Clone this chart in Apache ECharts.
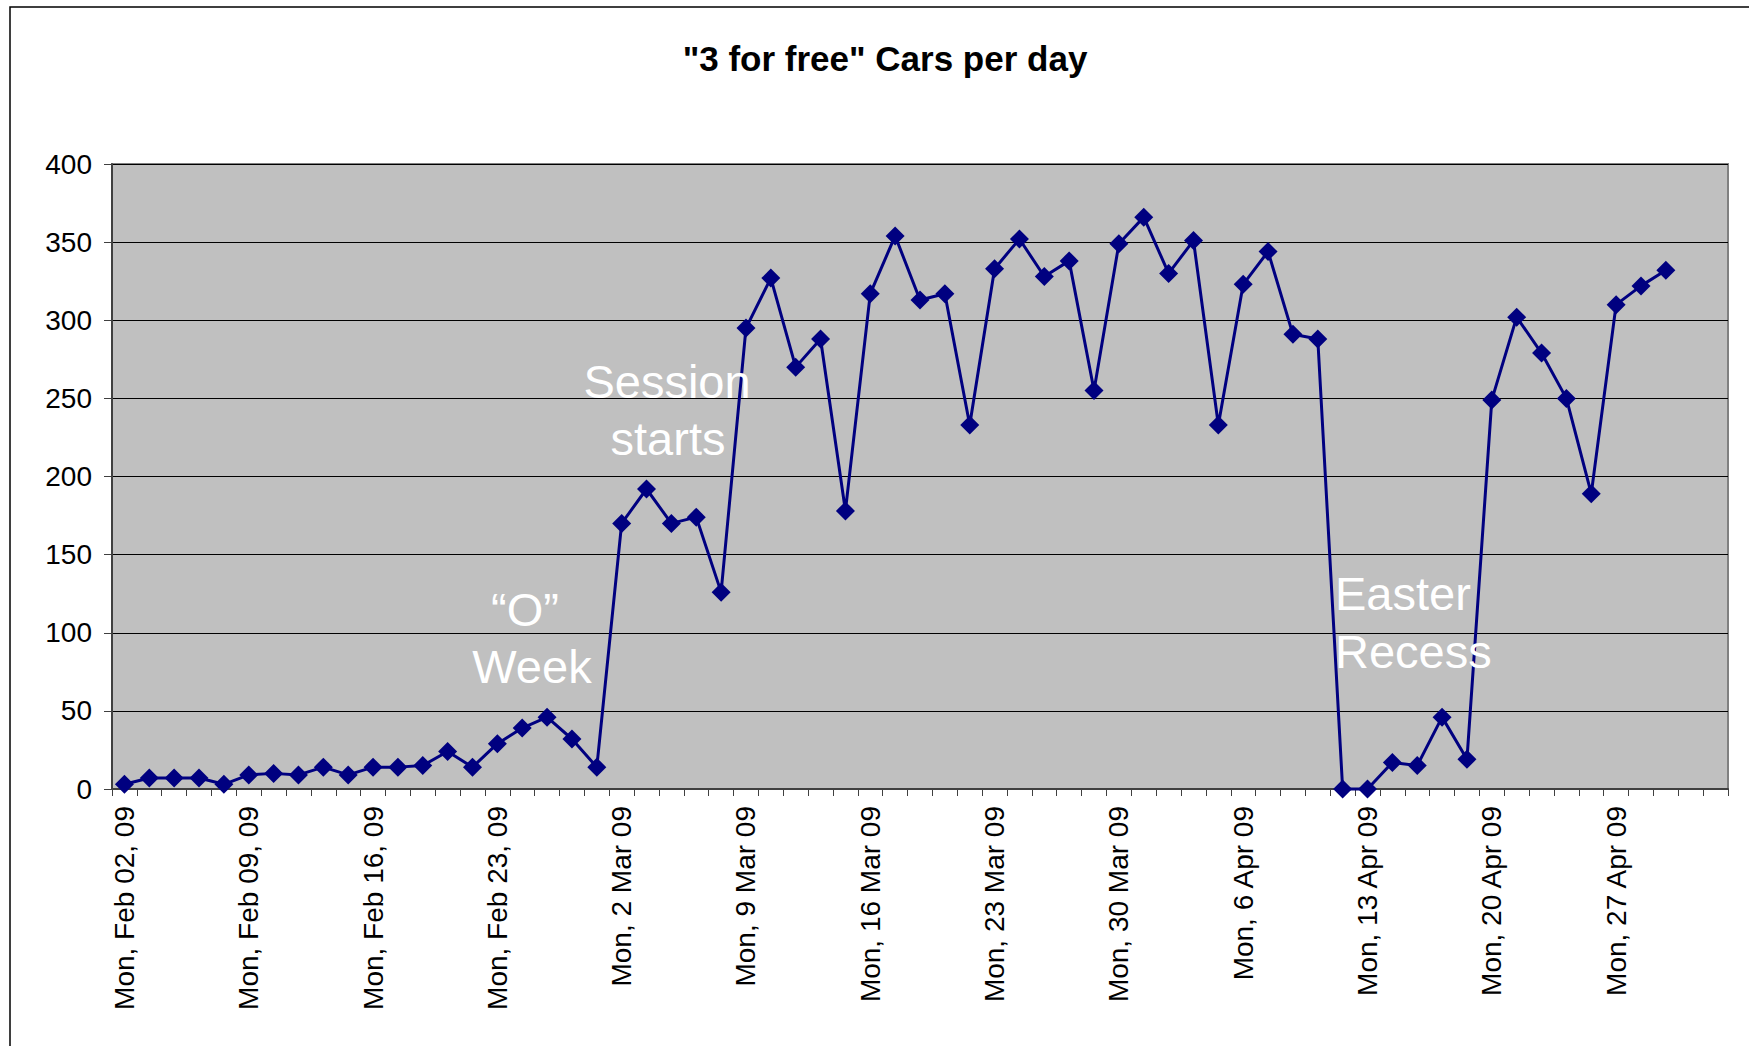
<!DOCTYPE html>
<html>
<head>
<meta charset="utf-8">
<script src="https://cdn.jsdelivr.net/npm/echarts@6/dist/echarts.min.js"></script>
<style>
  html, body { margin: 0; padding: 0; background: #fff; }
  #chart { width: 1749px; height: 1046px; }
</style>
</head>
<body>
<div id="chart"></div>
<script>
// week start labels (one per Monday), 5 weekdays per week
var weekLabels = ['Mon, Feb 02, 09', 'Mon, Feb 09, 09', 'Mon, Feb 16, 09', 'Mon, Feb 23, 09',
  'Mon, 2 Mar 09', 'Mon, 9 Mar 09', 'Mon, 16 Mar 09', 'Mon, 23 Mar 09', 'Mon, 30 Mar 09',
  'Mon, 6 Apr 09', 'Mon, 13 Apr 09', 'Mon, 20 Apr 09', 'Mon, 27 Apr 09'];
var dayNames = ['Mon', 'Tue', 'Wed', 'Thu', 'Fri'];

// cars per day
var cars = [
  3, 7, 7, 7, 3,
  9, 10, 9, 14, 9,
  14, 14, 15, 24, 14,
  29, 39, 46, 32, 14,
  170, 192, 170, 174, 126,
  295, 327, 270, 288, 178,
  317, 354, 313, 317, 233,
  333, 352, 328, 338, 255,
  349, 366, 330, 351, 233,
  323, 344, 291, 288, 0,
  0, 17, 15, 46, 19,
  249, 302, 279, 250, 189,
  310, 322, 332
];

var yTicks = [0, 50, 100, 150, 200, 250, 300, 350, 400];

var categories = [];
weekLabels.forEach(function (w) {
  dayNames.forEach(function (d, j) {
    categories.push(j === 0 ? w : w + ' ' + d);
  });
});

var chart = echarts.init(document.getElementById('chart'), null, { renderer: 'svg' });

var font = 'Liberation Sans, Arial, sans-serif';

var option = {
  animation: false,
  backgroundColor: '#ffffff',
  grid: {
    left: 112, right: 21, top: 164, bottom: 257,
    show: true,
    backgroundColor: '#c0c0c0',
    borderColor: '#808080',
    borderWidth: 2
  },
  xAxis: {
    type: 'category',
    data: categories,
    boundaryGap: true,
    axisLine: { lineStyle: { color: '#404040', width: 2 } },
    axisTick: { show: true, interval: 0, length: 7, lineStyle: { color: '#404040', width: 1 } },
    axisLabel: {
      interval: 4,
      rotate: 90,
      margin: 17,
      fontFamily: font,
      fontSize: 28,
      color: '#000',
      formatter: function (v) { return v.indexOf(' Tue') > 0 ? '' : v; }
    },
    splitLine: { show: false }
  },
  yAxis: {
    type: 'value',
    min: yTicks[0],
    max: yTicks[yTicks.length - 1],
    interval: 50,
    axisLine: { show: true, lineStyle: { color: '#404040', width: 2 } },
    axisTick: { show: true, length: 8, lineStyle: { color: '#404040', width: 1 } },
    axisLabel: { margin: 20, fontFamily: font, fontSize: 28, color: '#000' },
    splitLine: { show: true, lineStyle: { color: '#000', width: 1 } }
  },
  series: [{
    type: 'line',
    data: cars,
    symbol: 'diamond',
    symbolSize: 19,
    showSymbol: true,
    showAllSymbol: true,
    clip: false,
    lineStyle: { color: '#000080', width: 3 },
    itemStyle: { color: '#000080' }
  }],
  graphic: [
    { type: 'rect', silent: true, z: 100,
      shape: { x: 10, y: 7, width: 1800, height: 1100 },
      style: { fill: 'none', stroke: '#000', lineWidth: 1.5 } },
    { type: 'text', x: 885, y: 58, z: 100,
      style: { text: '"3 for free" Cars per day', font: 'bold 35px ' + font, fill: '#000',
        textAlign: 'center', textVerticalAlign: 'middle' } },
    { type: 'text', x: 525, y: 609, z: 100,
      style: { text: '\u201cO\u201d', font: '47px ' + font, fill: '#fff', textAlign: 'center', textVerticalAlign: 'middle' } },
    { type: 'text', x: 532, y: 666, z: 100,
      style: { text: 'Week', font: '47px ' + font, fill: '#fff', textAlign: 'center', textVerticalAlign: 'middle' } },
    { type: 'text', x: 667, y: 381, z: 100,
      style: { text: 'Session', font: '47px ' + font, fill: '#fff', textAlign: 'center', textVerticalAlign: 'middle' } },
    { type: 'text', x: 668, y: 438, z: 100,
      style: { text: 'starts', font: '47px ' + font, fill: '#fff', textAlign: 'center', textVerticalAlign: 'middle' } },
    { type: 'text', x: 1335, y: 593, z: 100,
      style: { text: 'Easter', font: '47px ' + font, fill: '#fff', textAlign: 'left', textVerticalAlign: 'middle' } },
    { type: 'text', x: 1335, y: 651, z: 100,
      style: { text: 'Recess', font: '47px ' + font, fill: '#fff', textAlign: 'left', textVerticalAlign: 'middle' } }
  ]
};

chart.setOption(option);
</script>
</body>
</html>
